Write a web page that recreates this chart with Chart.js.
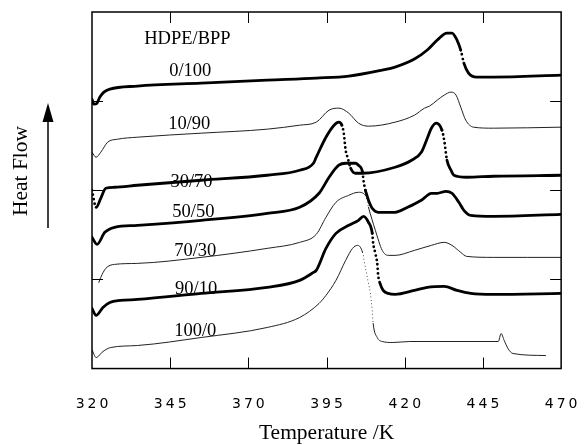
<!DOCTYPE html>
<html>
<head>
<meta charset="utf-8">
<script src="https://cdn.jsdelivr.net/npm/chart.js@4"></script>
<style>
  html, body { margin: 0; padding: 0; background: #fff; }
  canvas { display: block; }
</style>
</head>
<body>
<canvas id="dscChart" width="588" height="445"></canvas>
<script>
// DSC heating traces of HDPE/BPP blends, temperature in K, heat flow in arbitrary units (traces offset)
const tempTicks = [320, 345, 370, 395, 420, 445, 470];
const flowTicks = [89, 178, 267];
const blendNames = ['0/100', '10/90', '30/70', '50/50', '70/30', '90/10', '100/0'];

const temp0_100 = [320.0, 320.6, 321.6, 322.5, 323.8, 325.7, 334.5, 354.9, 376.0, 391.7, 402.1, 412.8, 416.9, 423.1, 427.2, 430.4, 433.5, 435.1, 436.7, 437.9, 438.9, 440.4, 443.0, 448.3, 470.0];
const flow0_100 = [269, 264, 265, 271, 276, 279, 282, 285, 288, 290, 292, 298, 301, 309, 318, 328, 335, 335, 328, 318, 305, 295, 291, 291, 293];

const temp10_90 = [320.0, 321.3, 322.8, 325.0, 328.2, 334.5, 354.9, 376.0, 386.4, 391.7, 395.8, 398.9, 402.1, 405.2, 408.4, 416.9, 423.1, 426.3, 427.9, 430.4, 432.6, 434.8, 436.4, 437.9, 439.5, 442.0, 448.3, 470.0];
const flow10_90 = [216, 211, 216, 226, 229, 231, 235, 239, 243, 246, 258, 260, 255, 245, 242, 246, 253, 260, 262, 268, 273, 276, 273, 261, 248, 241, 240, 241];

const temp30_70 = [320.0, 321.3, 322.8, 324.4, 327.2, 334.5, 354.9, 376.0, 386.4, 390.8, 391.7, 394.8, 397.4, 398.9, 399.9, 400.5, 401.1, 401.8, 402.7, 404.3, 406.5, 416.9, 422.2, 425.3, 427.2, 428.5, 430.1, 431.9, 432.6, 433.5, 434.8, 435.7, 439.8, 448.3, 470.0];
const flow30_70 = [178, 161, 170, 180, 181, 183, 188, 193, 198, 205, 211, 231, 243, 246, 243, 235, 218, 210, 200, 195, 195, 201, 208, 216, 230, 240, 245, 238, 228, 208, 198, 193, 191, 192, 193];

const temp50_50 = [320.0, 321.6, 324.1, 327.2, 334.5, 354.9, 376.0, 386.4, 392.6, 395.8, 398.9, 401.1, 404.3, 405.2, 406.5, 406.8, 407.4, 407.7, 408.4, 409.6, 411.5, 416.9, 420.9, 425.3, 428.5, 430.4, 433.2, 435.1, 437.3, 438.9, 441.1, 448.3, 470.0];
const flow50_50 = [131, 124, 136, 141, 143, 148, 155, 161, 175, 191, 203, 205, 205, 203, 196, 188, 178, 175, 168, 160, 156, 156, 161, 168, 175, 175, 177, 175, 166, 158, 153, 152, 154];

const temp70_30 = [322.2, 322.8, 324.4, 327.2, 334.5, 354.9, 376.0, 386.4, 391.7, 394.8, 398.0, 402.1, 405.2, 407.4, 408.4, 410.6, 412.8, 414.7, 416.9, 423.1, 428.5, 432.6, 435.1, 437.9, 439.8, 448.3, 470.0];
const flow70_30 = [86, 91, 100, 104, 105, 111, 120, 126, 134, 151, 166, 173, 176, 173, 161, 138, 118, 113, 113, 118, 123, 126, 123, 116, 112, 111, 111];

const temp90_10 = [320.0, 321.3, 323.5, 325.7, 329.1, 334.5, 354.9, 376.0, 386.4, 390.8, 391.7, 394.8, 398.0, 402.1, 405.2, 406.8, 408.4, 409.6, 409.9, 410.6, 411.2, 411.5, 412.1, 413.1, 414.7, 416.9, 423.1, 427.2, 432.6, 436.7, 441.1, 448.3, 470.0];
const flow90_10 = [60, 53, 61, 66, 68, 69, 75, 81, 88, 96, 98, 120, 135, 143, 148, 152, 146, 135, 125, 115, 105, 93, 85, 78, 75, 74, 78, 81, 82, 78, 75, 74, 75];

const temp100_0 = [320.0, 321.3, 323.5, 326.0, 334.5, 354.9, 376.0, 386.4, 392.6, 394.8, 398.0, 401.1, 403.3, 404.9, 406.5, 407.4, 408.4, 409.0, 409.6, 409.9, 411.2, 412.8, 416.2, 421.6, 449.9, 450.8, 451.8, 453.0, 454.6, 465.0];
const flow100_0 = [19, 11, 17, 21, 23, 31, 41, 51, 65, 73, 88, 108, 120, 123, 116, 101, 85, 75, 58, 45, 31, 27, 26, 27, 27, 35, 28, 20, 15, 13];

// where each blend name sits, in axis units [K, heat flow]
const nameSpots = [[351.4, 297], [351.1, 244], [351.8, 186], [352.4, 156], [353.0, 117], [353.3, 79], [353.0, 37]];
const headerSpot = [350.5, 329];

function toPoints(temps, flows) {
  return temps.map((t, i) => ({ x: t, y: flows[i] }));
}

// steep parts of the scan were recorded sparsely and show up as dots
function steep(ctx) {
  const dx = Math.abs(ctx.p1.x - ctx.p0.x);
  const dy = Math.abs(ctx.p1.y - ctx.p0.y);
  return dy > 3.5 * dx && dy > 6;
}

function trace(temps, flows, thick) {
  return {
    data: toPoints(temps, flows),
    borderColor: thick ? '#000' : '#222',
    borderWidth: thick ? 2.8 : 1,
    borderCapStyle: 'round',
    cubicInterpolationMode: 'monotone',
    pointRadius: 0,
    fill: false,
    segment: {
      borderDash: ctx => steep(ctx) ? (thick ? [0, 4.5] : [0, 3.5]) : undefined
    }
  };
}

const decorations = {
  id: 'decorations',
  beforeDatasetsDraw(chart) {
    const { ctx, scales: { x, y } } = chart;
    ctx.save();
    ctx.fillStyle = '#000';
    ctx.textAlign = 'center';
    ctx.textBaseline = 'middle';
    ctx.font = '18.5px "Liberation Serif"';
    ctx.fillText('HDPE/BPP', x.getPixelForValue(headerSpot[0]), y.getPixelForValue(headerSpot[1]));
    blendNames.forEach((name, i) => {
      ctx.fillText(name, x.getPixelForValue(nameSpots[i][0]), y.getPixelForValue(nameSpots[i][1]));
    });
    ctx.restore();
  },
  afterDraw(chart) {
    const { ctx, chartArea: a, scales: { x, y } } = chart;
    ctx.save();
    ctx.strokeStyle = '#000';
    ctx.lineWidth = 1.5;
    ctx.strokeRect(a.left, a.top, a.right - a.left, a.bottom - a.top);
    ctx.lineWidth = 1;
    ctx.beginPath();
    tempTicks.slice(1, -1).forEach(t => {
      const px = Math.round(x.getPixelForValue(t)) + 0.5;
      ctx.moveTo(px, a.bottom); ctx.lineTo(px, a.bottom - 11);
      ctx.moveTo(px, a.top); ctx.lineTo(px, a.top + 11);
    });
    flowTicks.forEach(v => {
      const py = Math.round(y.getPixelForValue(v)) + 0.5;
      ctx.moveTo(a.left, py); ctx.lineTo(a.left + 11, py);
      ctx.moveTo(a.right, py); ctx.lineTo(a.right - 11, py);
    });
    ctx.stroke();

    // y axis name with an upward arrow
    ctx.save();
    ctx.translate(21, 171);
    ctx.rotate(-Math.PI / 2);
    ctx.font = '21.5px "Liberation Serif"';
    ctx.fillStyle = '#000';
    ctx.textAlign = 'center';
    ctx.textBaseline = 'middle';
    ctx.fillText('Heat Flow', 0, 0);
    ctx.restore();
    ctx.lineWidth = 1.5;
    ctx.beginPath();
    ctx.moveTo(48, 228); ctx.lineTo(48, 118);
    ctx.stroke();
    ctx.beginPath();
    ctx.moveTo(48, 103); ctx.lineTo(42.5, 122); ctx.lineTo(53.5, 122);
    ctx.closePath();
    ctx.fillStyle = '#000';
    ctx.fill();
    ctx.restore();
  }
};

// wide tracking on the temperature numbers, set a little lower than the axis padding puts them
const spacedTicks = {
  id: 'spacedTicks',
  beforeDraw(chart) {
    const s = chart.scales.x;
    if (s._spaced) return;
    const orig = s.drawLabels;
    s.drawLabels = function (area) {
      const c = this.ctx;
      c.save();
      c.letterSpacing = '3px';
      c.translate(1.5, 13.5);
      orig.call(this, area);
      c.restore();
    };
    s._spaced = true;
  }
};

new Chart(document.getElementById('dscChart'), {
  type: 'line',
  data: {
    datasets: [
      trace(temp0_100, flow0_100, true),
      trace(temp10_90, flow10_90, false),
      trace(temp30_70, flow30_70, true),
      trace(temp50_50, flow50_50, true),
      trace(temp70_30, flow70_30, false),
      trace(temp90_10, flow90_10, true),
      trace(temp100_0, flow100_0, false)
    ]
  },
  options: {
    responsive: false,
    animation: false,
    layout: { padding: { left: 92, right: 19, top: 12, bottom: 0 } },
    plugins: { legend: { display: false }, tooltip: { enabled: false } },
    scales: {
      x: {
        type: 'linear',
        min: 320,
        max: 470,
        afterBuildTicks: scale => { scale.ticks = tempTicks.map(v => ({ value: v })); },
        grid: { display: false, drawTicks: false },
        border: { display: false },
        ticks: {
          color: '#000',
          padding: 13.5,
          maxRotation: 0,
          font: { family: '"DejaVu Sans"', size: 14 }
        },
        title: {
          display: true,
          text: 'Temperature /K',
          color: '#000',
          font: { family: '"Liberation Serif"', size: 21.5, lineHeight: 1.1 },
          padding: { top: 9, bottom: 0 }
        }
      },
      y: { display: false, min: 0, max: 356 }
    }
  },
  plugins: [decorations, spacedTicks]
});
</script>
</body>
</html>
